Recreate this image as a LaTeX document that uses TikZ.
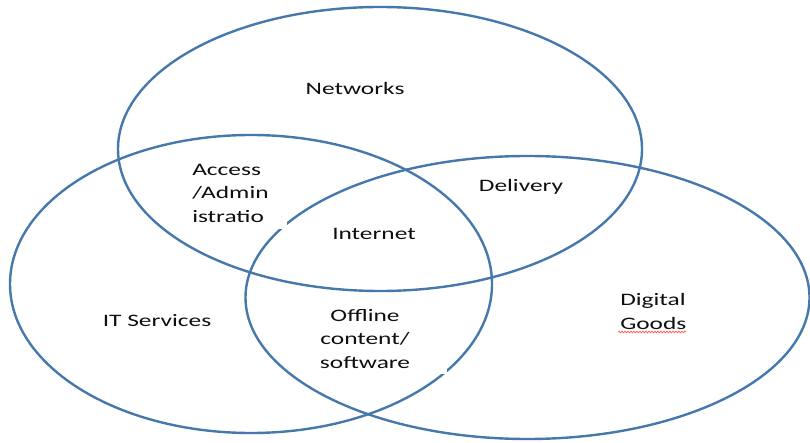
\documentclass[tikz,border=0pt]{standalone}
\usepackage{fontspec}
\setmainfont{Carlito}
\usetikzlibrary{decorations.pathmorphing}
\definecolor{vennblue}{RGB}{70,120,172}
\definecolor{txtgray}{RGB}{15,15,15}
\tikzset{
  venn/.style={draw=vennblue, line width=2.4pt},
  lbl/.style={font=\fontsize{17.5}{23.5}\selectfont, text=txtgray, inner sep=0pt, xscale=1.45, transform shape},
  cover/.style={fill=white, draw=none}
}
\begin{document}
\begin{tikzpicture}[x=1pt,y=1pt]
\useasboundingbox (0,0) rectangle (810,442);
% ellipses
\draw[venn] (380,293) ellipse [x radius=262, y radius=142];
\draw[venn] (251,158) ellipse [x radius=241, y radius=149];
\draw[venn] (527.5,144.5) ellipse [x radius=282, y radius=141.5];
% white text boxes hiding bits of lines
\path[cover] (180,213) rectangle (287,292);
\path[cover] (300,68) rectangle (447,142);
% labels
\node[lbl] (net) at (355,354) {Networks};
\node[lbl, anchor=west, align=left] (acc) at (192,249) {Access\\/Admin\\istratio};
\node[lbl] (int) at (374,208) {Internet};
\node[lbl] (del) at (521,255) {Delivery};
\node[lbl] (its) at (157,121) {IT Services};
\node[lbl, align=center] (off) at (365,103) {Offline\\content/\\software};
\node[lbl, anchor=west, align=left] (dig) at (620,130.5) {Digital\\Goods};
% spell-check underline
\coordinate (u1) at (618,110);
\coordinate (u2) at (686,110);
\draw[red!65, line width=0.7pt, decorate, decoration={snake, amplitude=0.9pt, segment length=3pt}] (u1) -- (u2);
\end{tikzpicture}
\end{document}
